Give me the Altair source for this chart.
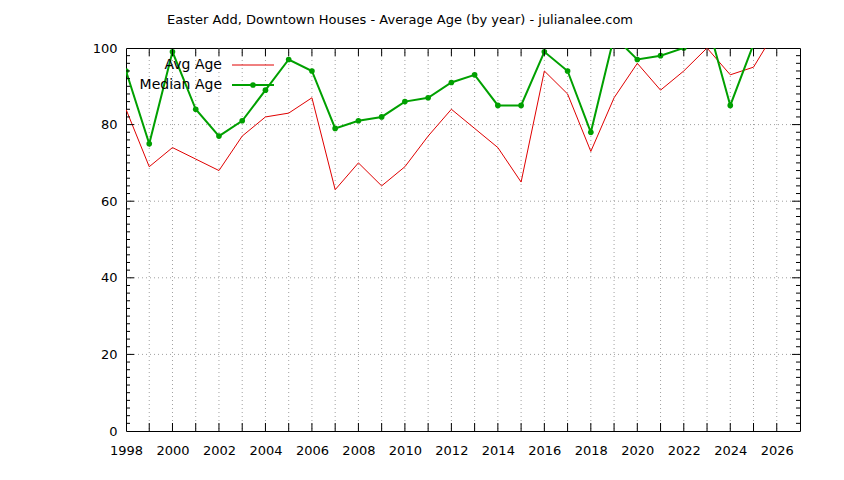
import altair as alt
import pandas as pd

TITLE = "Easter Add, Downtown Houses - Average Age (by year) - julianalee.com"
YEARS = list(range(1998, 2027))
AVG_AGE = [84, 69, 74, 71, 68, 77, 82, 83, 87, 63, 70, 64, 69, 77, 84, 79, 74, 65,
           94, 88, 73, 87, 96, 89, 94, 100, 93, 95, 105]
MEDIAN_AGE = [94, 75, 99, 84, 77, 81, 89, 97, 94, 79, 81, 82, 86, 87, 91, 93, 85, 85,
              99, 94, 78, 103, 97, 98, 100, 107, 85, 101, 104]
SERIES = ["Avg Age", "Median Age"]
X_LABEL_YEARS = list(range(1998, 2027, 2))
Y_LABELS = [0, 20, 40, 60, 80, 100]
X_GRID = list(range(1999, 2027))
Y_GRID = [20, 40, 60, 80]
Y_MINOR = [v for v in range(2, 100, 2) if v % 20]

W, H = 674, 383
FONT = "DejaVu Sans"
RED = "#e00000"
GREEN = "#00a000"
GRID = "#a0a0a0"

xs = alt.Scale(domain=[1998, 2027], nice=False, zero=False)
ys = alt.Scale(domain=[0, 100], nice=False, zero=False)
xaxis = alt.Axis(values=X_LABEL_YEARS, format="d", ticks=False, domain=False, grid=False,
                 labelPadding=13, title=None, labelFlush=False, labelOverlap=False)
yaxis = alt.Axis(values=Y_LABELS, ticks=False, domain=False, grid=False,
                 labelPadding=9, title=None)


def X(field):
    return alt.X(f"{field}:Q", scale=xs, axis=xaxis)


def Y(field):
    return alt.Y(f"{field}:Q", scale=ys, axis=yaxis)


df_avg = pd.DataFrame({"year": YEARS, "age": AVG_AGE})
df_med = pd.DataFrame({"year": YEARS, "age": MEDIAN_AGE})
df_xgrid = pd.DataFrame({"year": X_GRID})
df_ygrid = pd.DataFrame({"age": Y_GRID})
df_yminor = pd.DataFrame({"age": Y_MINOR})

grid_v = alt.Chart(df_xgrid).mark_rule(color=GRID, strokeDash=[1, 3], strokeWidth=1).encode(
    x=X("year"), y=alt.value(0), y2=alt.value(H))
grid_h = alt.Chart(df_ygrid).mark_rule(color=GRID, strokeDash=[1, 3], strokeWidth=1).encode(
    y=Y("age"), x=alt.value(0), x2=alt.value(W))

tick_b = alt.Chart(df_xgrid).mark_rule(color="black").encode(
    x=X("year"), y=alt.value(H), y2=alt.value(H - 8))
tick_t = alt.Chart(df_xgrid).mark_rule(color="black").encode(
    x=X("year"), y=alt.value(0), y2=alt.value(8))
tick_l = alt.Chart(df_ygrid).mark_rule(color="black").encode(
    y=Y("age"), x=alt.value(0), x2=alt.value(8))
tick_r = alt.Chart(df_ygrid).mark_rule(color="black").encode(
    y=Y("age"), x=alt.value(W), x2=alt.value(W - 8))
mtick_l = alt.Chart(df_yminor).mark_rule(color="black").encode(
    y=Y("age"), x=alt.value(0), x2=alt.value(4))
mtick_r = alt.Chart(df_yminor).mark_rule(color="black").encode(
    y=Y("age"), x=alt.value(W), x2=alt.value(W - 4))

line_avg = alt.Chart(df_avg).mark_line(color=RED, strokeWidth=1, clip=True).encode(
    x=X("year"), y=Y("age"))
line_med = alt.Chart(df_med).mark_line(color=GREEN, strokeWidth=2, clip=True).encode(
    x=X("year"), y=Y("age"))
pts_med = alt.Chart(df_med).mark_point(color=GREEN, filled=True, size=32, opacity=1, clip=True).encode(
    x=X("year"), y=Y("age"))

one = pd.DataFrame({"k": [0]})
leg_t1 = alt.Chart(one).mark_text(text=SERIES[0], align="right", baseline="middle",
                                  font=FONT, fontSize=14, color="black").encode(
    x=alt.value(96), y=alt.value(17))
leg_t2 = alt.Chart(one).mark_text(text=SERIES[1], align="right", baseline="middle",
                                  font=FONT, fontSize=14, color="black").encode(
    x=alt.value(96), y=alt.value(37))
leg_l1 = alt.Chart(one).mark_rule(color=RED, strokeWidth=1).encode(
    x=alt.value(106), x2=alt.value(148), y=alt.value(17))
leg_l2 = alt.Chart(one).mark_rule(color=GREEN, strokeWidth=2).encode(
    x=alt.value(106), x2=alt.value(148), y=alt.value(37))
leg_p2 = alt.Chart(one).mark_point(color=GREEN, filled=True, size=32, opacity=1).encode(
    x=alt.value(127), y=alt.value(37))

title = alt.Chart(one).mark_text(text=TITLE, align="center", baseline="middle",
                                 font=FONT, fontSize=13, color="black").encode(
    x=alt.value(274), y=alt.value(-28))

chart = alt.layer(
    grid_v, grid_h, line_avg, line_med, pts_med,
    tick_b, tick_t, tick_l, tick_r, mtick_l, mtick_r,
    leg_t1, leg_t2, leg_l1, leg_l2, leg_p2, title
).properties(
    width=W, height=H,
    padding={"left": 118, "top": 40, "right": 36, "bottom": 41},
    autosize=alt.AutoSizeParams(type="none"),
    background="white",
).configure_view(
    stroke="black", strokeWidth=1
).configure_axis(
    labelFont=FONT, labelFontSize=13, labelColor="black"
)

chart.save("out.html", embed_options={"renderer": "svg", "actions": False})
